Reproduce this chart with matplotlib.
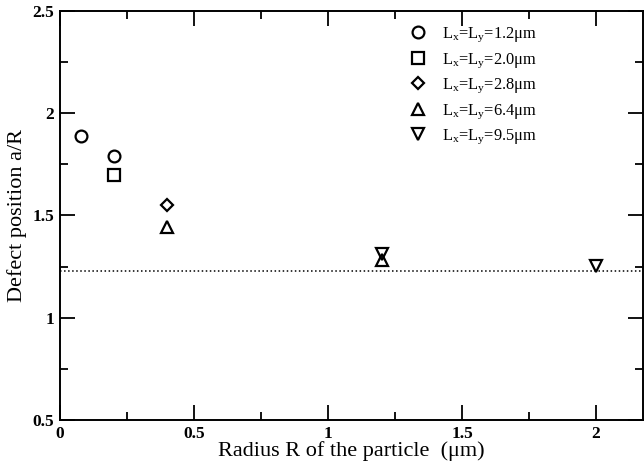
import matplotlib
matplotlib.use("Agg")
from matplotlib import pyplot as plt
from matplotlib.ticker import MultipleLocator

plt.rcParams['font.family'] = ['Liberation Serif', 'DejaVu Serif']
plt.rcParams['mathtext.fontset'] = 'custom'
plt.rcParams['mathtext.rm'] = 'Liberation Serif'
plt.rcParams['mathtext.it'] = 'Liberation Serif:italic'

# box sizes L_x = L_y (um) and the measured defect positions
labels = [r'L$_\mathrm{x}$=L$_\mathrm{y}$=1.2μm',
          r'L$_\mathrm{x}$=L$_\mathrm{y}$=2.0μm',
          r'L$_\mathrm{x}$=L$_\mathrm{y}$=2.8μm',
          r'L$_\mathrm{x}$=L$_\mathrm{y}$=6.4μm',
          r'L$_\mathrm{x}$=L$_\mathrm{y}$=9.5μm']
markers = ['o', 's', 'D', '^', 'v']

radius_12 = [0.08, 0.2]
pos_12 = [1.89, 1.79]
radius_20 = [0.2]
pos_20 = [1.70]
radius_28 = [0.4]
pos_28 = [1.55]
radius_64 = [0.4, 1.2]
pos_64 = [1.445, 1.28]
radius_95 = [1.2, 2.0]
pos_95 = [1.31, 1.255]

limit_value = 1.23

xs = [radius_12, radius_20, radius_28, radius_64, radius_95]
ys = [pos_12, pos_20, pos_28, pos_64, pos_95]

fig = plt.figure(figsize=(6.44, 4.72), dpi=100)
ax = fig.add_axes([0.0932, 0.1102, 0.905, 0.8665])

sizes = [8.5, 8, 6.5, 9, 9]
for x, y, m, lab, s in zip(xs, ys, markers, labels, sizes):
    ax.plot(x, y, linestyle='none', marker=m, markersize=s, markerfacecolor='none',
            markeredgecolor='black', markeredgewidth=1.6, label=lab)

ax.axhline(limit_value, color='black', linestyle=':', linewidth=1.1)

ax.set_xlim(0, 2.175)
ax.set_ylim(0.5, 2.5)
ax.xaxis.set_minor_locator(MultipleLocator(0.25))
ax.yaxis.set_minor_locator(MultipleLocator(0.25))
ax.set_xticks([0, 0.5, 1, 1.5, 2])
ax.set_xticklabels(['0', '0.5', '1', '1.5', '2'], fontweight='bold')
ax.set_yticks([0.5, 1, 1.5, 2, 2.5])
ax.set_yticklabels(['0.5', '1', '1.5', '2', '2.5'], fontweight='bold')

ax.tick_params(which='both', direction='in', top=True, right=True, labelsize=12.5, width=1.3)
ax.tick_params(which='major', length=11, pad=4)
ax.tick_params(which='minor', length=6)
for sp in ax.spines.values():
    sp.set_linewidth(1.4)

ax.set_xlabel('Radius R of the particle  (μm)', fontsize=16, labelpad=0)
ax.set_ylabel('Defect position a/R', fontsize=16, labelpad=4)

ax.legend(loc='upper left', bbox_to_anchor=(0.568, 0.99), frameon=False, fontsize=11.8,
          handletextpad=0.45, labelspacing=0.42, borderaxespad=0.25, handlelength=2.0)

fig.savefig('out.png', dpi=100)
